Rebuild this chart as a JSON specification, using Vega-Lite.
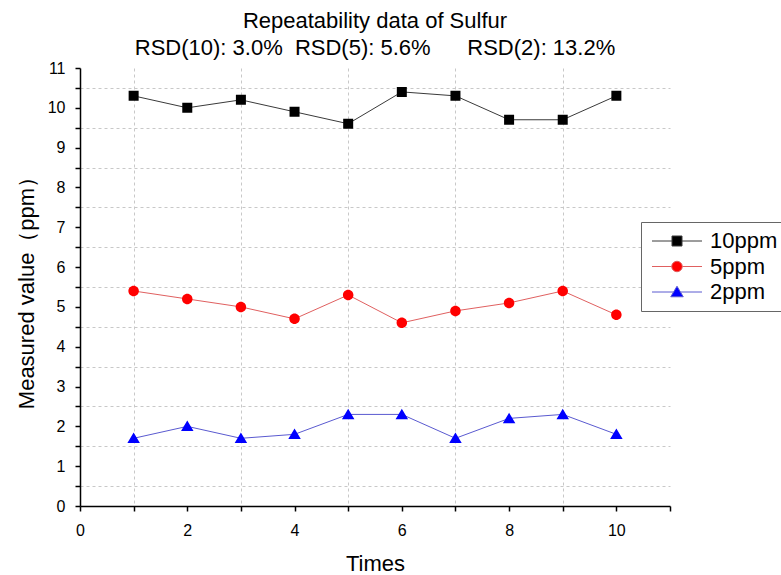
{
  "$schema": "https://vega.github.io/schema/vega-lite/v6.json",
  "width": 590,
  "height": 438,
  "autosize": {"type": "none"},
  "padding": {"left": 80, "top": 68, "right": 111, "bottom": 69},
  "background": "white",
  "config": {"view": {"stroke": null}},
  "title": {
    "text": "Repeatability data of Sulfur",
    "subtitle": "RSD(10): 3.0%\u00a0\u00a0RSD(5): 5.6%\u00a0\u00a0\u00a0\u00a0\u00a0\u00a0RSD(2): 13.2%",
    "anchor": "middle",
    "frame": "group",
    "font": "Liberation Sans",
    "fontSize": 22,
    "fontWeight": "normal",
    "color": "black",
    "subtitleFont": "Liberation Sans",
    "subtitleFontSize": 22,
    "subtitleColor": "black",
    "subtitlePadding": 5,
    "offset": 0
  },
  "data": {
    "values": [
      {"t": 1, "s": "10ppm", "v": 10.3}, {"t": 2, "s": "10ppm", "v": 10.0}, {"t": 3, "s": "10ppm", "v": 10.2}, {"t": 4, "s": "10ppm", "v": 9.9}, {"t": 5, "s": "10ppm", "v": 9.6},
      {"t": 6, "s": "10ppm", "v": 10.4}, {"t": 7, "s": "10ppm", "v": 10.3}, {"t": 8, "s": "10ppm", "v": 9.7}, {"t": 9, "s": "10ppm", "v": 9.7}, {"t": 10, "s": "10ppm", "v": 10.3},
      {"t": 1, "s": "5ppm", "v": 5.4}, {"t": 2, "s": "5ppm", "v": 5.2}, {"t": 3, "s": "5ppm", "v": 5.0}, {"t": 4, "s": "5ppm", "v": 4.7}, {"t": 5, "s": "5ppm", "v": 5.3},
      {"t": 6, "s": "5ppm", "v": 4.6}, {"t": 7, "s": "5ppm", "v": 4.9}, {"t": 8, "s": "5ppm", "v": 5.1}, {"t": 9, "s": "5ppm", "v": 5.4}, {"t": 10, "s": "5ppm", "v": 4.8},
      {"t": 1, "s": "2ppm", "v": 1.7}, {"t": 2, "s": "2ppm", "v": 2.0}, {"t": 3, "s": "2ppm", "v": 1.7}, {"t": 4, "s": "2ppm", "v": 1.8}, {"t": 5, "s": "2ppm", "v": 2.3},
      {"t": 6, "s": "2ppm", "v": 2.3}, {"t": 7, "s": "2ppm", "v": 1.7}, {"t": 8, "s": "2ppm", "v": 2.2}, {"t": 9, "s": "2ppm", "v": 2.3}, {"t": 10, "s": "2ppm", "v": 1.8}
    ]
  },
  "encoding": {
    "x": {
      "field": "t", "type": "quantitative",
      "scale": {"domain": [0, 11], "nice": false, "zero": false},
      "axis": {
        "values": [0, 1, 2, 3, 4, 5, 6, 7, 8, 9, 10, 11],
        "labelExpr": "datum.value % 2 === 0 && datum.value <= 10 ? format(datum.value, 'd') : ''",
        "labelFlush": false, "labelOverlap": false,
        "labelFont": "Liberation Sans", "labelFontSize": 16, "labelColor": "black", "labelPadding": 11,
        "tickSize": 5, "tickColor": "black", "tickWidth": 1.5,
        "domainColor": "black", "domainWidth": 1.5,
        "grid": true, "gridColor": "#c8c8c8", "gridDash": [3, 3], "gridWidth": 1,
        "gridOpacity": {"condition": {"test": "datum.value % 2 === 1 && datum.value < 11", "value": 1}, "value": 0},
        "title": "Times", "titleFont": "Liberation Sans", "titleFontSize": 22, "titleFontWeight": "normal", "titleColor": "black", "titlePadding": 15
      }
    },
    "y": {
      "field": "v", "type": "quantitative",
      "scale": {"domain": [0, 11], "nice": false, "zero": false},
      "axis": {
        "values": [0, 0.5, 1, 1.5, 2, 2.5, 3, 3.5, 4, 4.5, 5, 5.5, 6, 6.5, 7, 7.5, 8, 8.5, 9, 9.5, 10, 10.5, 11],
        "labelExpr": "datum.value % 1 === 0 ? format(datum.value, 'd') : ''",
        "labelFlush": false, "labelOverlap": false,
        "labelFont": "Liberation Sans", "labelFontSize": 16, "labelColor": "black", "labelPadding": 10,
        "tickSize": 5, "tickColor": "black", "tickWidth": 1.5,
        "domainColor": "black", "domainWidth": 1.5,
        "grid": true, "gridColor": "#c8c8c8", "gridDash": [3, 3], "gridWidth": 1,
        "gridOpacity": {"condition": {"test": "datum.value % 1 !== 0", "value": 1}, "value": 0},
        "title": "Measured value（ppm）", "titleFont": "Liberation Sans", "titleFontSize": 22, "titleFontWeight": "normal", "titleColor": "black", "titlePadding": 9
      }
    }
  },
  "layer": [
    {
      "transform": [{"filter": "datum.s === '10ppm'"}],
      "mark": {"type": "line", "strokeWidth": 1, "color": "#3a3a3a"}
    },
    {
      "transform": [{"filter": "datum.s === '5ppm'"}],
      "mark": {"type": "line", "strokeWidth": 1, "color": "#e06060"}
    },
    {
      "transform": [{"filter": "datum.s === '2ppm'"}],
      "mark": {"type": "line", "strokeWidth": 1, "color": "#5a5ad0"}
    },
    {
      "mark": {"type": "point", "filled": true, "opacity": 1, "size": 100},
      "encoding": {
        "color": {
          "field": "s", "type": "nominal",
          "scale": {"domain": ["10ppm", "5ppm", "2ppm"], "range": ["#000000", "#ff0000", "#0000ff"]},
          "legend": {
            "title": null, "orient": "none", "legendX": 561, "legendY": 154,
            "strokeColor": "#666666", "fillColor": "white", "padding": 8,
            "symbolSize": 100, "symbolOffset": 17, "labelOffset": 22, "symbolStrokeWidth": 1,
            "labelFont": "Liberation Sans", "labelFontSize": 22, "labelColor": "black", "rowPadding": 3.5
          }
        },
        "stroke": {
          "field": "s", "type": "nominal",
          "scale": {"domain": ["10ppm", "5ppm", "2ppm"], "range": ["#3a3a3a", "#e06060", "#5a5ad0"]},
          "legend": {
            "title": null, "orient": "none", "legendX": 561, "legendY": 154,
            "strokeColor": "#666666", "fillColor": "white", "padding": 8,
            "symbolSize": 100, "symbolOffset": 17, "labelOffset": 22, "symbolStrokeWidth": 1,
            "labelFont": "Liberation Sans", "labelFontSize": 22, "labelColor": "black", "rowPadding": 3.5
          }
        },
        "shape": {
          "field": "s", "type": "nominal",
          "scale": {
            "domain": ["10ppm", "5ppm", "2ppm"],
            "range": [
              "M-5,0H-1M1,0H5M-1,-1H1V1H-1Z",
              "M-5,0H-1.05M1.05,0H5M-1.05,0A1.05,1.05,0,1,0,1.05,0A1.05,1.05,0,1,0,-1.05,0Z",
              "M-5,0H-0.7M0.7,0H5M0,-1.15L1.25,0.95L-1.25,0.95Z"
            ]
          },
          "legend": {
            "title": null, "orient": "none", "legendX": 561, "legendY": 154,
            "strokeColor": "#666666", "fillColor": "white", "padding": 8,
            "symbolSize": 100, "symbolOffset": 17, "labelOffset": 22, "symbolStrokeWidth": 1,
            "labelFont": "Liberation Sans", "labelFontSize": 22, "labelColor": "black", "rowPadding": 3.5
          }
        },
        "strokeWidth": {"value": 0}
      }
    }
  ]
}
